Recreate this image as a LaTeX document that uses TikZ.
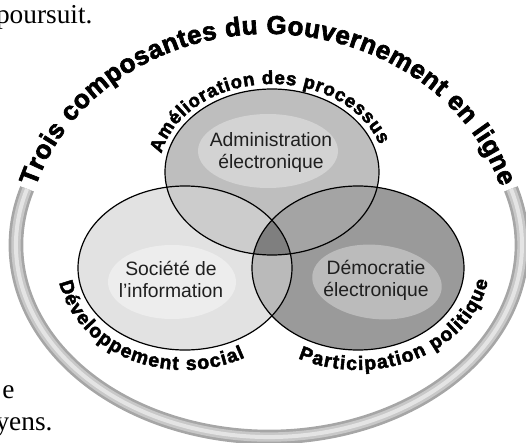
\documentclass[tikz,border=0pt]{standalone}
\usepackage{fontspec}
\setmainfont{Liberation Serif}
\setsansfont{Liberation Sans}
\newfontfamily\arcfont{Liberation Sans}[UprightFont={* Bold}, FakeBold=2.5]
\usetikzlibrary{decorations.text}

\definecolor{socfill}{HTML}{E2E2E2}
\definecolor{socinner}{HTML}{EDEDED}
\definecolor{admfill}{HTML}{BEBEBE}
\definecolor{adminner}{HTML}{D3D3D3}
\definecolor{demfill}{HTML}{9A9A9A}
\definecolor{deminner}{HTML}{BBBBBB}
\definecolor{admsoc}{HTML}{CCCCCC}
\definecolor{admdem}{HTML}{A4A4A4}
\definecolor{socdem}{HTML}{BABABA}
\definecolor{allthree}{HTML}{7F7F7F}
\definecolor{ringdark}{HTML}{A6A6A6}
\definecolor{ringmid}{HTML}{C8C8C8}
\definecolor{ringlight}{HTML}{E4E4E4}

\tikzset{every picture/.style={line width=0.75pt}}
\tikzset{
  arclabel/.style 2 args={decorate, decoration={text along path, text align=fit to path,
      text={|\arcfont\fontsize{#1}{#1}\selectfont|#2}}},
  inlabel/.style={font=\sffamily\fontsize{14.5}{16.5}\selectfont, align=center, text=black!88, inner sep=0pt},
  pagetext/.style={font=\rmfamily\fontsize{20.5}{24}\selectfont, inner sep=0pt},
  outline/.style={draw=black, line width=0.9}
}

\begin{document}
\begin{tikzpicture}[x=0.75pt,y=0.75pt,yscale=-1,xscale=1]
\useasboundingbox (0,0) rectangle (526,443);

%Outer ring
\foreach \w/\c in {11/ringdark, 7/ringmid, 3/ringlight}
  \draw[draw=\c, line width=\w] (269,245) ++(197:253 and 192) arc [start angle=197, end angle=-17, x radius=253, y radius=192];

%Circles
\fill[socfill] (185,268) ellipse [x radius=107, y radius=82];
\fill[admfill] (272,172) ellipse [x radius=107, y radius=83];
\fill[demfill] (358,268) ellipse [x radius=106, y radius=82];

%Overlaps
\begin{scope}
  \clip (185,268) ellipse [x radius=107, y radius=82];
  \fill[socdem] (358,268) ellipse [x radius=106, y radius=82];
\end{scope}
\begin{scope}
  \clip (272,172) ellipse [x radius=107, y radius=83];
  \fill[admsoc] (185,268) ellipse [x radius=107, y radius=82];
  \fill[admdem] (358,268) ellipse [x radius=106, y radius=82];
  \clip (185,268) ellipse [x radius=107, y radius=82];
  \fill[allthree] (358,268) ellipse [x radius=106, y radius=82];
\end{scope}

%Inner light ellipses
\fill[adminner] (268,151) ellipse [x radius=70, y radius=37];
\fill[socinner] (172,282) ellipse [x radius=64, y radius=37];
\fill[deminner, rotate around={6:(377,282)}] (377,282) ellipse [x radius=65, y radius=37];

%Outlines
\draw[outline] (185,268) ellipse [x radius=107, y radius=82];
\draw[outline] (272,172) ellipse [x radius=107, y radius=83];
\draw[outline] (358,268) ellipse [x radius=106, y radius=82];

% Text Node
\node[inlabel] (admin) at (271,152.5) {Administration\\électronique};
% Text Node
\node[inlabel] (societe) at (171,279) {Société de\\l’information};
% Text Node
\node[inlabel] (demo) at (376,280) {Démocratie\\électronique};

%Arc labels
\path[arclabel={19.5}{Trois composantes du Gouvernement en ligne}] (268,250) ++(197:243 and 216) arc [start angle=197, end angle=343, x radius=243, y radius=216];
\path[arclabel={14}{Amélioration des processus}] (272,172) ++(192:113 and 88) arc [start angle=192, end angle=342, x radius=113, y radius=88];
\path[arclabel={14.5}{Développement social}] (185,262) ++(169:128 and 108) arc [start angle=169, end angle=62, x radius=128, y radius=108];
\path[arclabel={14.5}{Participation politique}] (358,262) ++(117:132 and 108) arc [start angle=117, end angle=10, x radius=132, y radius=108];

% Page text
\node[pagetext, anchor=base east] (poursuit) at (93,23) {poursuit.};
\node[pagetext, anchor=base east] (lignee) at (15,398) {e};
\node[pagetext, anchor=base east] (moyens) at (53,430) {yens.};

\end{tikzpicture}
\end{document}
